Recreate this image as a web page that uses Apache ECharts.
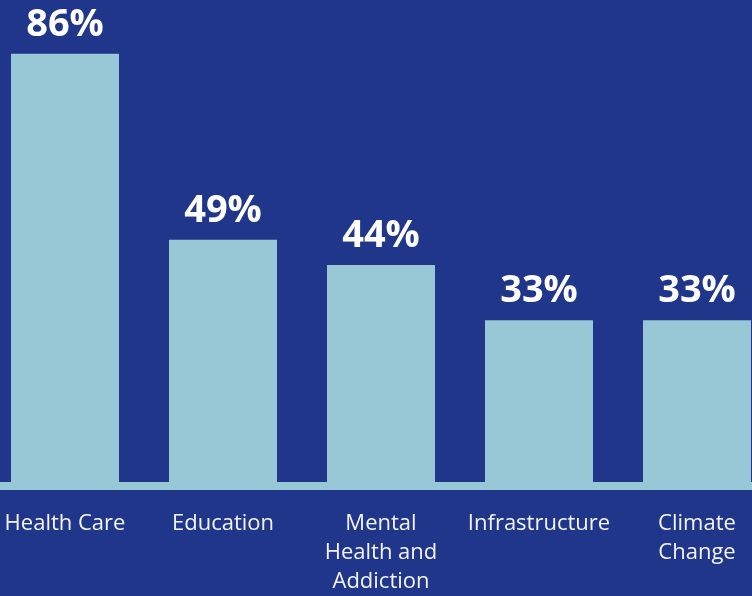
<!DOCTYPE html>
<html><head><meta charset="utf-8">
<script src="https://cdn.jsdelivr.net/npm/echarts@6/dist/echarts.min.js"></script>
<style>html,body{margin:0;padding:0;background:#1f368a;overflow:hidden;width:752px;height:596px;}#c{width:790px;height:596px;margin-left:-14px;}</style>
</head><body><div id="c"></div>
<script>
const categories = ['Health Care', 'Education', 'Mental\nHealth and\nAddiction', 'Infrastructure', 'Climate\nChange'];
const values = [86, 49, 44, 33, 33];

const chart = echarts.init(document.getElementById('c'));
chart.setOption({
  backgroundColor: '#1f368a',
  animation: false,
  grid: { left: 0, right: 0, top: 0, bottom: 104, containLabel: false },
  xAxis: {
    type: 'category', data: categories,
    axisLine: { show: true, lineStyle: { color: '#98c8d6', width: 8 } },
    axisTick: { show: false },
    axisLabel: { color: '#f4f4f8', fontSize: 22, fontFamily: 'Open Sans', lineHeight: 29, margin: 19, interval: 0, verticalAlign: 'top' }
  },
  yAxis: { type: 'value', min: -0.79, max: 96.7, show: false, splitLine: { show: false } },
  series: [{
    type: 'bar', data: values, barWidth: 108,
    itemStyle: { color: '#98c8d6' },
    label: { show: true, position: 'top', distance: 10, formatter: '{c}%', color: '#ffffff', fontSize: 38, fontWeight: 'bold', fontFamily: 'Open Sans' }
  }]
});
</script></body></html>
